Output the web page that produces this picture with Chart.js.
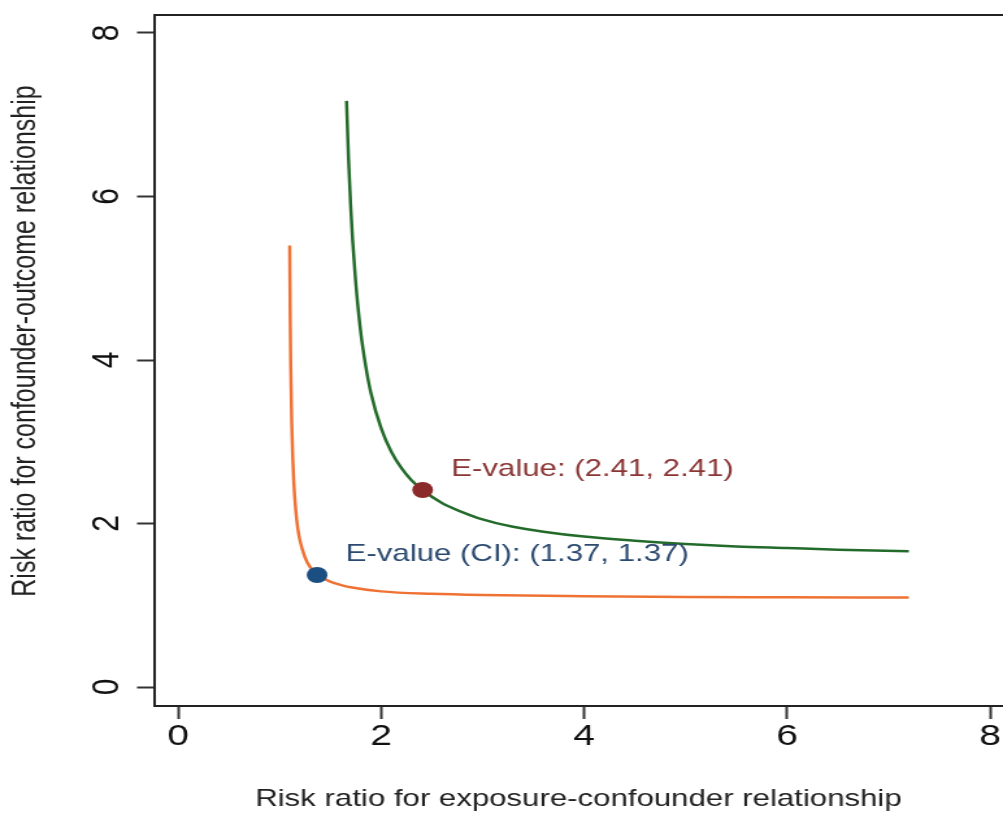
<!DOCTYPE html>
<html>
<head>
<meta charset="utf-8">
<title>E-value plot</title>
<script src="https://cdn.jsdelivr.net/npm/chart.js@4.4.1/dist/chart.umd.min.js"></script>
<style>
  html, body { margin: 0; padding: 0; background: #fff; overflow: hidden; }
  /* the source picture is stretched sideways, so the chart is too */
  #wrap { width: 772px; height: 819px; transform: scaleX(1.2992); transform-origin: 0 0; }
</style>
</head>
<body>
<div id="wrap"><canvas id="evalue-chart" width="772" height="819"></canvas></div>
<script>
// ---- data ----
// point estimate curve (green)
const estX = [1.66, 1.68, 1.70, 1.72, 1.75, 1.80, 1.85, 1.90, 2.00, 2.10, 2.20, 2.30, 2.41, 2.60, 2.80, 3.00, 3.30, 3.60, 4.00, 4.50, 5.00, 5.50, 6.00, 6.50, 7.20];
const estY = [7.17, 6.46, 5.91, 5.47, 4.96, 4.34, 3.92, 3.60, 3.17, 2.88, 2.68, 2.53, 2.41, 2.25, 2.14, 2.05, 1.96, 1.90, 1.84, 1.79, 1.75, 1.72, 1.70, 1.68, 1.66];
// confidence limit curve (orange)
const ciX = [1.100, 1.105, 1.110, 1.120, 1.130, 1.140, 1.160, 1.180, 1.200, 1.250, 1.300, 1.370, 1.400, 1.500, 1.600, 1.700, 2.000, 2.500, 3.000, 4.000, 5.000, 6.000, 7.200];
const ciY = [5.40, 4.54, 3.96, 3.24, 2.81, 2.52, 2.16, 1.94, 1.80, 1.59, 1.47, 1.38, 1.35, 1.29, 1.25, 1.22, 1.17, 1.14, 1.125, 1.11, 1.10, 1.098, 1.094];
// highlighted points
const evalPoint = [2.41, 2.41];
const evalCIPoint = [1.37, 1.37];
const evalLabel = 'E-value: (2.41, 2.41)';
const evalCILabel = 'E-value (CI): (1.37, 1.37)';
// axes
const xTicks = [0, 2, 4, 6, 8];
const yTicks = [0, 2, 4, 6, 8];
const xTitle = 'Risk ratio for exposure-confounder relationship';
const yTitle = 'Risk ratio for confounder-outcome relationship';

const FONT = '"Liberation Sans", Arial, Helvetica, sans-serif';
const AXIS = '#222';

const toPts = (xs, ys) => xs.map((x, i) => ({ x: x, y: ys[i] }));

// draws what Chart.js can't lay out the Stata way: top frame, rotated y labels, point labels
const stataBits = {
  id: 'stataBits',
  afterDraw(chart) {
    const { ctx, chartArea, scales: { x, y } } = chart;
    ctx.save();

    ctx.strokeStyle = AXIS;
    ctx.lineWidth = 2;
    ctx.beginPath();
    ctx.moveTo(chartArea.left, chartArea.top);
    ctx.lineTo(chartArea.right, chartArea.top);
    ctx.stroke();

    ctx.fillStyle = '#111';
    ctx.font = '30px ' + FONT;
    ctx.textAlign = 'center';
    ctx.textBaseline = 'alphabetic';
    y.ticks.forEach(t => {
      ctx.save();
      ctx.translate(91, y.getPixelForValue(t.value));
      ctx.rotate(-Math.PI / 2);
      ctx.fillText(String(t.value), 0, 0);
      ctx.restore();
    });

    ctx.font = '25px ' + FONT;
    ctx.fillStyle = '#222';
    ctx.textBaseline = 'middle';
    ctx.save();
    ctx.translate(20, 341);
    ctx.rotate(-Math.PI / 2);
    ctx.fillText(yTitle, 0, 0);
    ctx.restore();

    ctx.font = '24px ' + FONT;
    ctx.textAlign = 'left';
    [[evalPoint, evalLabel, '#8b3535'], [evalCIPoint, evalCILabel, '#2b4a70']].forEach(([p, txt, col]) => {
      ctx.fillStyle = col;
      ctx.fillText(txt, x.getPixelForValue(p[0]) + 22, y.getPixelForValue(p[1]) - 21);
    });

    ctx.restore();
  }
};

new Chart(document.getElementById('evalue-chart'), {
  type: 'scatter',
  data: {
    datasets: [
      { label: 'E-value', data: [{ x: evalPoint[0], y: evalPoint[1] }],
        pointRadius: 8, pointBackgroundColor: '#8b2a2a', pointBorderWidth: 0 },
      { label: 'E-value (CI)', data: [{ x: evalCIPoint[0], y: evalCIPoint[1] }],
        pointRadius: 8, pointBackgroundColor: '#1b4f82', pointBorderWidth: 0 },
      { label: 'Point estimate', data: toPts(estX, estY), showLine: true,
        borderColor: '#236b2a', borderWidth: 2.5, pointRadius: 0, cubicInterpolationMode: 'monotone' },
      { label: 'CI', data: toPts(ciX, ciY), showLine: true,
        borderColor: '#ef7234', borderWidth: 2.5, pointRadius: 0, cubicInterpolationMode: 'monotone' }
    ]
  },
  options: {
    responsive: false,
    animation: false,
    devicePixelRatio: 1,
    // no automatic room for the point markers, the frame is fixed
    layout: { autoPadding: false, padding: { top: 15, right: 0, bottom: 0, left: 0 } },
    plugins: { legend: { display: false }, tooltip: { enabled: false } },
    scales: {
      x: {
        type: 'linear', min: -0.237, max: 8.128,
        afterBuildTicks: s => { s.ticks = xTicks.map(v => ({ value: v })); },
        afterFit: s => { s.height = 113; s.paddingLeft = 0; s.paddingRight = 0; },
        ticks: { includeBounds: false, padding: 0, color: '#111', font: { family: FONT, size: 30 } },
        grid: { drawOnChartArea: false, drawTicks: true, tickLength: 13, tickColor: '#333', tickWidth: 2 },
        border: { display: true, color: AXIS, width: 2 },
        title: { display: true, text: xTitle, color: '#222', font: { family: FONT, size: 24 }, padding: { top: 0, bottom: 5 } }
      },
      y: {
        type: 'linear', min: -0.232, max: 8.22,
        afterBuildTicks: s => { s.ticks = yTicks.map(v => ({ value: v })); },
        afterFit: s => { s.width = 118.5; s.paddingTop = 0; s.paddingBottom = 0; },
        ticks: { display: false, includeBounds: false },
        grid: { drawOnChartArea: false, drawTicks: true, tickLength: 13, tickColor: '#333', tickWidth: 2 },
        border: { display: true, color: AXIS, width: 2 }
      }
    }
  },
  plugins: [stataBits]
});
</script>
</body>
</html>
